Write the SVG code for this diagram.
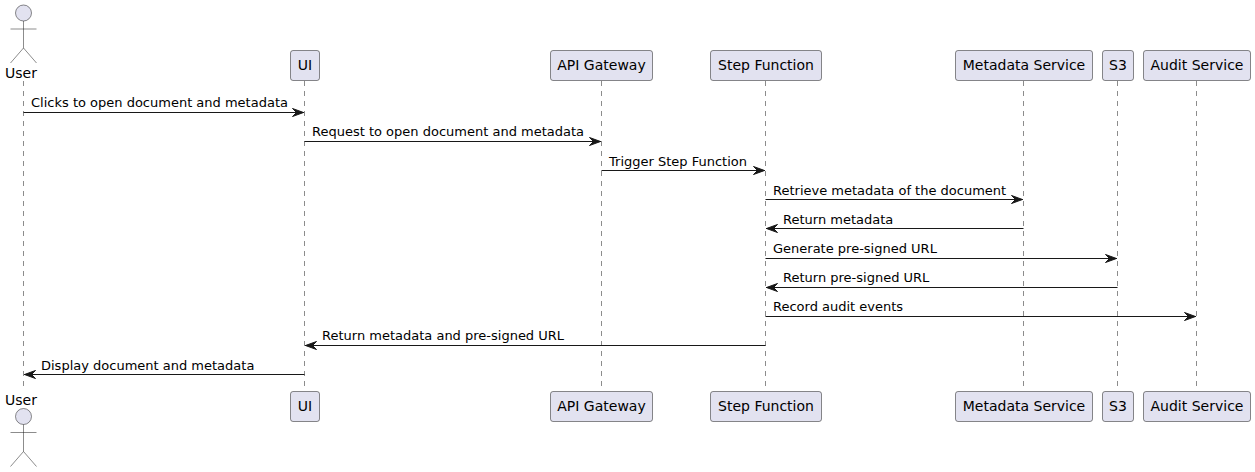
<svg xmlns="http://www.w3.org/2000/svg" width="1255" height="472" viewBox="0 0 1255 472">
<style>
text{font-family:"DejaVu Sans",sans-serif;font-size:14px;fill:#000}
#labels text{font-size:13px}
.box{fill:#E2E2F0;stroke:#181818;stroke-width:.5}
.life{stroke:#181818;stroke-width:.5;stroke-dasharray:5 5;fill:none}
.msg{stroke:#181818;stroke-width:1;fill:none}
.actor{fill:none;stroke:#181818;stroke-width:.5}
.head{fill:#E2E2F0;stroke:#181818;stroke-width:.5}
.c{text-anchor:middle}
</style>
<defs>
<path id="ar" d="M-11,-4 L0,0 L-11,4 L-7,0 Z" fill="#181818" stroke="#181818"/>
<g id="act"><circle class="head" cx="0" cy="8" r="8"/><path class="actor" d="M0,16V43M-13,24H13M0,43L-13,58M0,43L13,58"/></g>
</defs>
<g id="lifelines">
<path class="life" d="M23.5,81V391"/><path class="life" d="M304.5,81V391"/><path class="life" d="M601.5,81V391"/><path class="life" d="M765.5,81V391"/><path class="life" d="M1023.5,81V391"/><path class="life" d="M1117.5,81V391"/><path class="life" d="M1196.5,81V391"/>
</g>
<g id="connectors">
<path class="msg" d="M23.5,112.5H304"/><use href="#ar" transform="translate(303.5,112.5)"/>
<path class="msg" d="M304.5,141.5H601"/><use href="#ar" transform="translate(600.5,141.5)"/>
<path class="msg" d="M601.5,170.5H765"/><use href="#ar" transform="translate(764.5,170.5)"/>
<path class="msg" d="M765.5,199.5H1023"/><use href="#ar" transform="translate(1022.5,199.5)"/>
<path class="msg" d="M766,228.5H1023.5"/><use href="#ar" transform="translate(766.5,228.5) scale(-1,1)"/>
<path class="msg" d="M765.5,258.5H1117"/><use href="#ar" transform="translate(1116.5,258.5)"/>
<path class="msg" d="M766,287.5H1117.5"/><use href="#ar" transform="translate(766.5,287.5) scale(-1,1)"/>
<path class="msg" d="M765.5,316.5H1196"/><use href="#ar" transform="translate(1195.5,316.5)"/>
<path class="msg" d="M305,345.5H765.5"/><use href="#ar" transform="translate(305.5,345.5) scale(-1,1)"/>
<path class="msg" d="M24,374.5H304.5"/><use href="#ar" transform="translate(24.5,374.5) scale(-1,1)"/>
</g>
<g id="labels">
<text x="31" y="107">Clicks to open document and metadata</text>
<text x="312" y="136">Request to open document and metadata</text>
<text x="609" y="166">Trigger Step Function</text>
<text x="773" y="195">Retrieve metadata of the document</text>
<text x="783" y="224">Return metadata</text>
<text x="773" y="253">Generate pre-signed URL</text>
<text x="783" y="282">Return pre-signed URL</text>
<text x="773" y="311">Record audit events</text>
<text x="322" y="340">Return metadata and pre-signed URL</text>
<text x="41" y="370">Display document and metadata</text>
</g>
<g id="user-top"><use href="#act" transform="translate(23.5,5)"/><text class="c" x="21" y="78">User</text></g>
<g id="user-bottom"><text class="c" x="21" y="405">User</text><use href="#act" transform="translate(23.5,408.5)"/></g>
<g id="ui-top"><rect class="box" x="290.5" y="50.5" width="29" height="30" rx="2.5"/><text class="c" x="305" y="70">UI</text></g>
<g id="ui-bottom"><rect class="box" x="290.5" y="391.5" width="29" height="30" rx="2.5"/><text class="c" x="305" y="411">UI</text></g>
<g id="api-top"><rect class="box" x="550.5" y="50.5" width="102" height="30" rx="2.5"/><text class="c" x="601.5" y="70">API Gateway</text></g>
<g id="api-bottom"><rect class="box" x="550.5" y="391.5" width="102" height="30" rx="2.5"/><text class="c" x="601.5" y="411">API Gateway</text></g>
<g id="step-top"><rect class="box" x="710.5" y="50.5" width="111" height="30" rx="2.5"/><text class="c" x="766" y="70">Step Function</text></g>
<g id="step-bottom"><rect class="box" x="710.5" y="391.5" width="111" height="30" rx="2.5"/><text class="c" x="766" y="411">Step Function</text></g>
<g id="meta-top"><rect class="box" x="955.5" y="50.5" width="137" height="30" rx="2.5"/><text class="c" x="1024" y="70">Metadata Service</text></g>
<g id="meta-bottom"><rect class="box" x="955.5" y="391.5" width="137" height="30" rx="2.5"/><text class="c" x="1024" y="411">Metadata Service</text></g>
<g id="s3-top"><rect class="box" x="1102.5" y="50.5" width="31" height="30" rx="2.5"/><text class="c" x="1118" y="70">S3</text></g>
<g id="s3-bottom"><rect class="box" x="1102.5" y="391.5" width="31" height="30" rx="2.5"/><text class="c" x="1118" y="411">S3</text></g>
<g id="audit-top"><rect class="box" x="1143.5" y="50.5" width="107" height="30" rx="2.5"/><text class="c" x="1197" y="70">Audit Service</text></g>
<g id="audit-bottom"><rect class="box" x="1143.5" y="391.5" width="107" height="30" rx="2.5"/><text class="c" x="1197" y="411">Audit Service</text></g>
</svg>
